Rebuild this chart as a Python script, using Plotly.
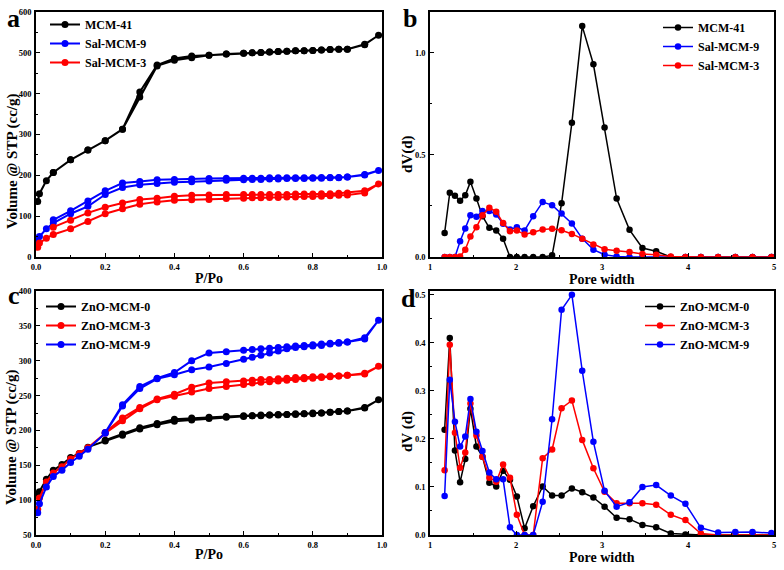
import plotly.graph_objects as go

# ---------------- data ----------------
# Panel a: N2 isotherms (adsorption then desorption)
p_ads_a = [0.005, 0.01, 0.03, 0.05, 0.1, 0.15, 0.2, 0.25, 0.3, 0.35, 0.4, 0.45, 0.5, 0.55,
           0.6, 0.625, 0.65, 0.675, 0.7, 0.725, 0.75, 0.775, 0.8, 0.825, 0.85, 0.875, 0.9, 0.95, 0.99]
p_des_a = [0.95, 0.9, 0.875, 0.85, 0.825, 0.8, 0.775, 0.75, 0.725, 0.7, 0.675, 0.65, 0.625, 0.6,
           0.55, 0.5, 0.45, 0.4, 0.35, 0.3, 0.25, 0.2, 0.15, 0.1, 0.05]
mcm41_ads = [136, 155, 187, 207, 238, 262, 285, 313, 392, 468, 482, 488, 494, 497,
             499, 500, 501, 502, 503, 504, 505, 505, 506, 507, 508, 509, 509, 521, 543]
mcm41_des = [520, 509, 509, 508, 507, 506, 505, 505, 504, 503, 502, 501, 500, 499,
             497, 494, 492, 486, 470, 404, 313, 285, 262, 238, 207]
sal9_ads = [41, 50, 69, 83, 106, 124, 153, 170, 177, 180, 183, 184, 186, 188,
            189, 190, 190, 191, 191, 192, 192, 192, 193, 193, 194, 194, 196, 202, 212]
sal9_des = [201, 196, 195, 195, 195, 194, 194, 194, 194, 194, 194, 193, 193, 193,
            193, 192, 191, 190, 189, 185, 181, 162, 137, 113, 91]
sal3_ads = [24, 34, 46, 55, 69, 87, 106, 118, 129, 135, 139, 140, 141, 143,
            144, 145, 145, 146, 146, 147, 147, 148, 148, 149, 150, 151, 152, 157, 179]
sal3_des = [162, 157, 156, 155, 155, 154, 154, 154, 153, 153, 153, 153, 153, 153,
            153, 152, 151, 149, 144, 141, 132, 122, 108, 90, 73]

# Panel c: ZnO isotherms
p_ads_c = [0.005, 0.01, 0.03, 0.05, 0.075, 0.1, 0.125, 0.15, 0.2, 0.25, 0.3, 0.35, 0.4, 0.45, 0.5, 0.55,
           0.6, 0.625, 0.65, 0.675, 0.7, 0.725, 0.75, 0.775, 0.8, 0.825, 0.85, 0.875, 0.9, 0.95, 0.99]
p_des_c = [0.95, 0.9, 0.875, 0.85, 0.825, 0.8, 0.775, 0.75, 0.725, 0.7, 0.675, 0.65, 0.625, 0.6,
           0.55, 0.5, 0.45, 0.4, 0.35, 0.3, 0.25, 0.2]
zno0_ads = [108, 112, 130, 143, 151, 161, 167, 176, 185, 193, 202, 208, 213, 215, 217, 219,
            220, 221, 221, 222, 222, 223, 223, 224, 224, 225, 226, 227, 228, 232, 244]
zno0_des = [233, 228, 227, 226, 225, 225, 224, 224, 223, 223, 222, 222, 221, 221,
            220, 219, 218, 216, 210, 204, 195, 186]
zno3_ads = [87, 103, 126, 139, 148, 159, 167, 175, 196, 214, 231, 244, 249, 255, 260, 263,
            266, 268, 269, 270, 271, 272, 273, 274, 275, 276, 277, 278, 279, 281, 292]
zno3_des = [282, 279, 278, 278, 277, 277, 276, 276, 275, 274, 273, 273, 272, 271,
            270, 268, 262, 252, 245, 233, 218, 197]
zno9_ads = [82, 95, 119, 134, 143, 154, 163, 173, 196, 235, 260, 274, 280, 287, 291, 296,
            302, 305, 308, 311, 314, 317, 319, 320, 321, 322, 324, 325, 327, 331, 358]
zno9_des = [333, 327, 326, 325, 324, 323, 322, 321, 320, 319, 318, 317, 316, 315,
            313, 311, 300, 283, 275, 263, 237, 197]

# Panels b, d: pore size distributions
pore_w = [1.17, 1.23, 1.29, 1.35, 1.41, 1.47, 1.54, 1.61, 1.69, 1.77, 1.85, 1.93, 2.01, 2.10, 2.20,
          2.31, 2.42, 2.53, 2.65, 2.77, 2.90, 3.03, 3.17, 3.32, 3.47, 3.63, 3.80, 3.97, 4.15, 4.35,
          4.55, 4.75, 4.97]
psd_mcm41 = [0.118, 0.315, 0.300, 0.276, 0.302, 0.368, 0.286, 0.200, 0.143, 0.130, 0.090, 0.0, 0.0,
             0.0, 0.0, 0.0, 0.008, 0.263, 0.658, 1.131, 0.944, 0.634, 0.286, 0.133, 0.044, 0.028,
             0.0, 0.0, 0.0, 0.0, 0.0, 0.0, 0.0]
psd_sal9 = [0.0, 0.0, 0.0, 0.077, 0.140, 0.204, 0.197, 0.225, 0.225, 0.208, 0.163, 0.135, 0.146,
            0.130, 0.200, 0.269, 0.254, 0.213, 0.164, 0.090, 0.036, 0.011, 0.003, 0.0, 0.0, 0.0,
            0.0, 0.0, 0.0, 0.0, 0.0, 0.0, 0.0]
psd_sal3 = [0.0, 0.0, 0.0, 0.003, 0.036, 0.100, 0.146, 0.205, 0.241, 0.222, 0.166, 0.126, 0.130,
            0.110, 0.121, 0.135, 0.138, 0.131, 0.113, 0.089, 0.061, 0.038, 0.031, 0.025, 0.015,
            0.011, 0.003, 0.0, 0.0, 0.0, 0.0, 0.0, 0.0]
psd_zno0 = [0.219, 0.410, 0.176, 0.110, 0.158, 0.263, 0.184, 0.163, 0.109, 0.101, 0.134, 0.115,
            0.080, 0.014, 0.060, 0.101, 0.082, 0.082, 0.097, 0.089, 0.078, 0.059, 0.036, 0.033,
            0.021, 0.016, 0.003, 0.001, 0.0, 0.0, 0.0, 0.0, 0.0]
psd_zno3 = [0.135, 0.396, 0.213, 0.140, 0.172, 0.274, 0.207, 0.163, 0.119, 0.111, 0.147, 0.119,
            0.042, 0.0, 0.0, 0.160, 0.178, 0.264, 0.280, 0.198, 0.139, 0.090, 0.066, 0.066,
            0.066, 0.063, 0.042, 0.031, 0.003, 0.0, 0.0, 0.0, 0.0]
psd_zno9 = [0.081, 0.323, 0.236, 0.184, 0.205, 0.283, 0.215, 0.175, 0.130, 0.116, 0.116, 0.016,
            0.0, 0.0, 0.0, 0.069, 0.241, 0.469, 0.500, 0.342, 0.194, 0.092, 0.059, 0.068, 0.100,
            0.104, 0.082, 0.065, 0.015, 0.005, 0.006, 0.006, 0.004]

# ---------------- styling ----------------
FONT = "Liberation Serif"
BLACK, BLUE, RED = "#000000", "#0000FF", "#FF0000"
W, H = 784, 570


def px(x):  # page pixel -> paper x
    return x / W


def py(y):  # page pixel -> paper y
    return 1 - y / H


fig = go.Figure()


def add(xs, ys, name, color, xa, ya, legend, lw, ms):
    fig.add_trace(go.Scatter(x=xs, y=ys, name=name, mode="lines+markers",
                             line=dict(color=color, width=lw),
                             marker=dict(color=color, size=ms),
                             xaxis=xa, yaxis=ya, legend=legend))


# panel a
add(p_ads_a + p_des_a, mcm41_ads + mcm41_des, "MCM-41", BLACK, "x", "y", "legend", 2, 7)
add(p_ads_a + p_des_a, sal9_ads + sal9_des, "Sal-MCM-9", BLUE, "x", "y", "legend", 2, 7)
add(p_ads_a + p_des_a, sal3_ads + sal3_des, "Sal-MCM-3", RED, "x", "y", "legend", 2, 7)
# panel b
add(pore_w, psd_mcm41, "MCM-41", BLACK, "x2", "y2", "legend2", 1.5, 6.5)
add(pore_w, psd_sal9, "Sal-MCM-9", BLUE, "x2", "y2", "legend2", 1.5, 6.5)
add(pore_w, psd_sal3, "Sal-MCM-3", RED, "x2", "y2", "legend2", 1.5, 6.5)
# panel c
add(p_ads_c + p_des_c, zno0_ads + zno0_des, "ZnO-MCM-0", BLACK, "x3", "y3", "legend3", 2, 7)
add(p_ads_c + p_des_c, zno3_ads + zno3_des, "ZnO-MCM-3", RED, "x3", "y3", "legend3", 2, 7)
add(p_ads_c + p_des_c, zno9_ads + zno9_des, "ZnO-MCM-9", BLUE, "x3", "y3", "legend3", 2, 7)
# panel d
add(pore_w, psd_zno0, "ZnO-MCM-0", BLACK, "x4", "y4", "legend4", 1.5, 6.5)
add(pore_w, psd_zno3, "ZnO-MCM-3", RED, "x4", "y4", "legend4", 1.5, 6.5)
add(pore_w, psd_zno9, "ZnO-MCM-9", BLUE, "x4", "y4", "legend4", 1.5, 6.5)

left_dom = [px(36), px(382)]
right_dom = [px(430), px(774)]
top_row = [py(257), py(12)]
bot_row = [py(535), py(291)]

tickfont = dict(family=FONT, size=8.5, color="black", weight="bold")


def axis(domain, rng, dtick, fmt, anchor, minor_dtick, tick0):
    return dict(domain=domain, range=rng, dtick=dtick, tick0=tick0,
                tickformat=fmt, anchor=anchor, showgrid=False, zeroline=False,
                automargin=False, ticklabelstandoff=1,
                showline=True, linecolor="black", linewidth=1.6, mirror=True,
                ticks="inside", ticklen=4, tickwidth=1.2, tickcolor="black",
                tickfont=tickfont,
                minor=dict(ticks="inside", ticklen=2.5, tickwidth=1, tickcolor="black",
                           dtick=minor_dtick, showgrid=False))


fig.update_layout(
    template="none",
    xaxis=axis(left_dom, [0, 1], 0.2, ".1f", "y", 0.1, 0),
    yaxis=axis(top_row, [0, 600], 100, "d", "x", 50, 0),
    xaxis2=axis(right_dom, [1, 5], 1, "d", "y2", 0.5, 1),
    yaxis2=axis(top_row, [0, 1.2], 0.5, ".1f", "x2", 0.25, 0),
    xaxis3=axis(left_dom, [0, 1], 0.2, ".1f", "y3", 0.1, 0),
    yaxis3=axis(bot_row, [50, 400], 50, "d", "x3", 25, 50),
    xaxis4=axis(right_dom, [1, 5], 1, "d", "y4", 0.5, 1),
    yaxis4=axis(bot_row, [0, 0.508], 0.1, ".1f", "x4", 0.05, 0),
)


def legend(x, y):
    return dict(x=px(x), y=py(y), xanchor="left", yanchor="top",
                bgcolor="rgba(0,0,0,0)", borderwidth=0, tracegroupgap=0,
                itemwidth=30, font=dict(family=FONT, size=12, color="black", weight="bold"))


fig.update_layout(
    legend=legend(45, 10),
    legend2=legend(658, 13),
    legend3=legend(41, 292),
    legend4=legend(640, 292),
)

ann = []
titlefont = dict(family=FONT, size=14, color="black", weight="bold")
for (x, y, t) in [(209, 278, "P/Po"), (602, 279, "Pore width"),
                  (209, 554, "P/Po"), (602, 557, "Pore width")]:
    ann.append(dict(x=px(x), y=py(y), xref="paper", yref="paper", text=t,
                    showarrow=False, font=titlefont, xanchor="center", yanchor="middle"))
ytitlefont = dict(family=FONT, size=15, color="black", weight="bold")
for (x, y, t) in [(12, 162, "Volume @ STP (cc/g)"), (408, 154, "dV(d)"),
                  (12, 438, "Volume @ STP (cc/g)"), (407, 432, "dV (d)")]:
    ann.append(dict(x=px(x), y=py(y), xref="paper", yref="paper", text=t, textangle=-90,
                    showarrow=False, font=ytitlefont, xanchor="center", yanchor="middle"))
for (x, y, t) in [(13, 19, "a"), (410, 19, "b"), (14, 295, "c"), (409, 298, "d")]:
    ann.append(dict(x=px(x), y=py(y), xref="paper", yref="paper", text=t,
                    showarrow=False, font=dict(family=FONT, size=26, color="black", weight="bold"),
                    xanchor="center", yanchor="middle"))
fig.update_layout(annotations=ann)

fig.update_layout(width=W, height=H, margin=dict(l=0, r=0, t=0, b=0),
                  paper_bgcolor="white", plot_bgcolor="white", showlegend=True)

fig.write_html("out.html", config={"displayModeBar": False},
               post_script="document.body.style.margin='0';document.body.style.overflow='hidden';")
